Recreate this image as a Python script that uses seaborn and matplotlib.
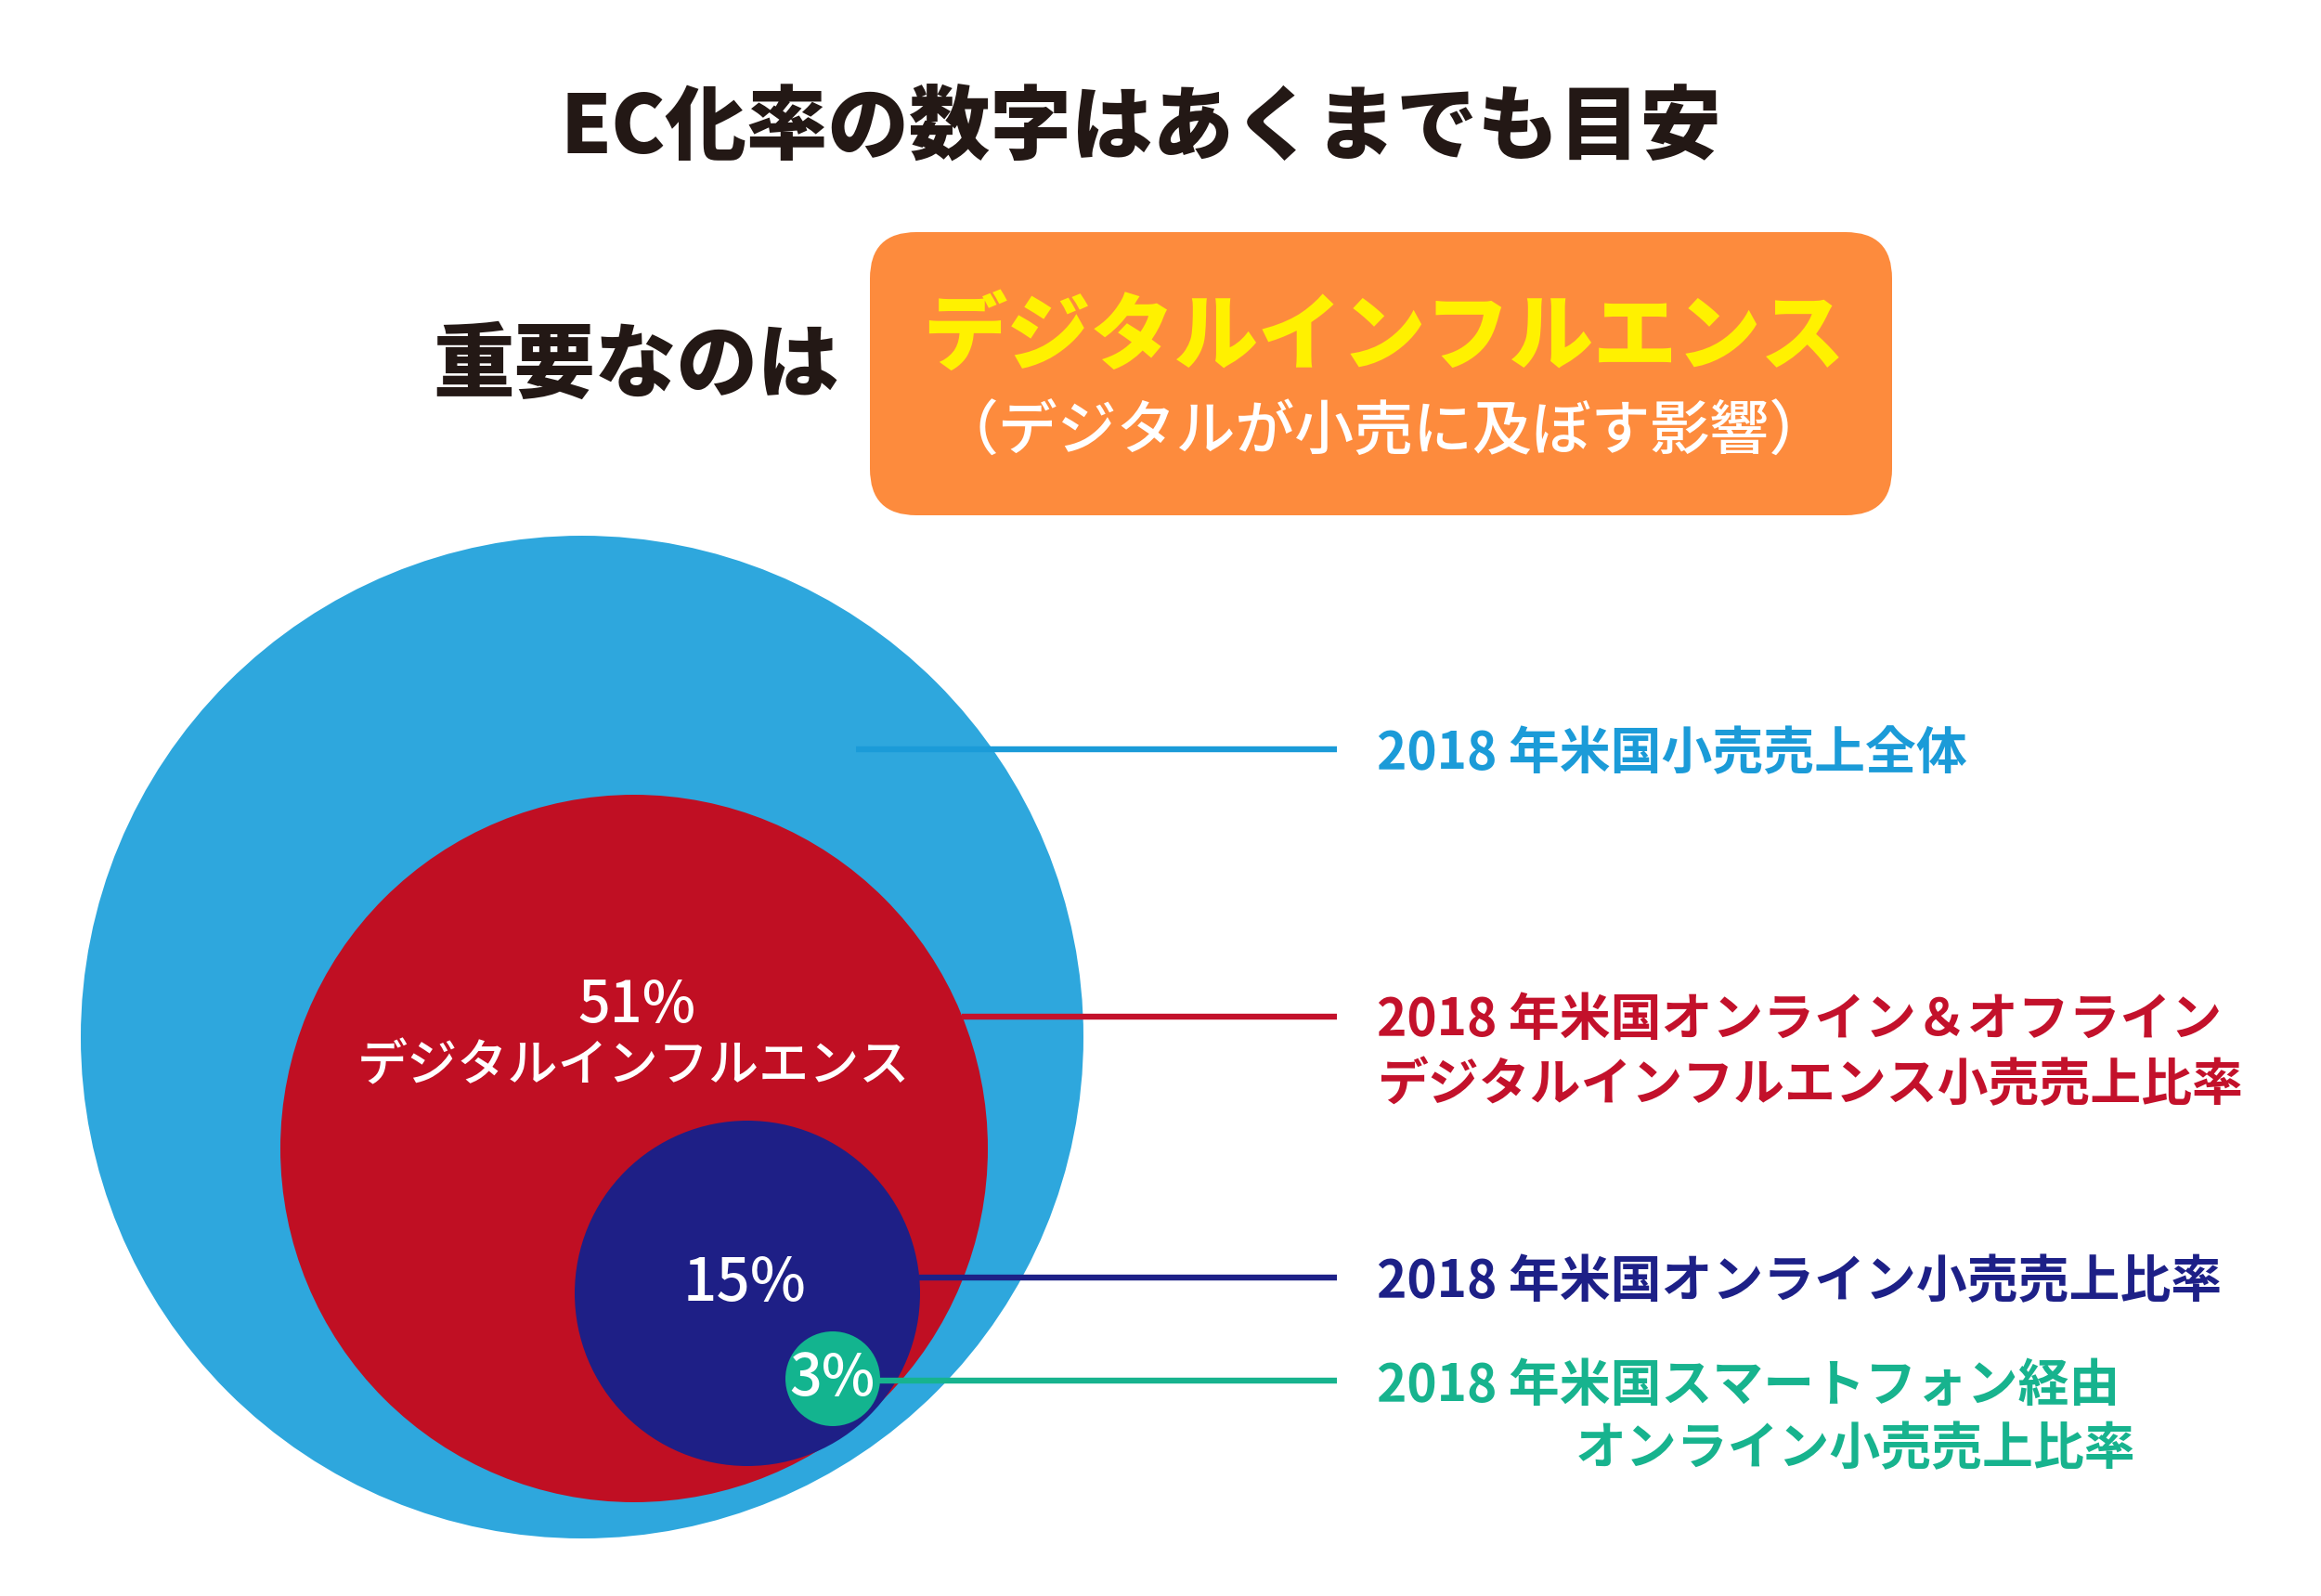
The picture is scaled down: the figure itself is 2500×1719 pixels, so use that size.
import pandas as pd
import seaborn as sns
import matplotlib.pyplot as plt
from matplotlib.patches import FancyBboxPatch

# ---- data ----
ring_names = ["小売売上全体", "デジタルインフルエンス", "オンライン", "スマートフォン"]
ring_pct = ["", "51%", "15%", "3%"]
ring_colors = ["#2ea7dd", "#c00f23", "#1e1f86", "#13b48f"]
label_colors = ["#1b9bd8", "#c3112b", "#1d2087", "#17b38e"]
label_lines = [
    ["2018 年米国小売売上全体"],
    ["2018 年米国オンライン＆オフライン", "デジタルインフルエンス小売売上比率"],
    ["2018 年米国オンライン小売売上比率"],
    ["2018 年米国スマートフォン経由", "オンライン小売売上比率"],
]
title = "EC化率の数字はあくまでも目安"
lead = "重要なのは"
box_title = "デジタルインフルエンス"
box_sub = "（デジタルが小売に及ぼす影響）"

# ---- layout (pixels of the 2500x1719 canvas) ----
W, H, DPI = 2500, 1719, 100
circle_cx = [627, 683, 805, 897]
circle_cy = [1117, 1237, 1393, 1485]
circle_r = [540, 381, 186, 51]
leader_y = [807, 1095, 1376, 1487]
leader_x0 = [922, 1036, 990, 946]
leader_x1 = 1440
label_x = 1483
label_fs = 39.5

sns.set_theme(style="white")
plt.rcParams["font.family"] = ["Noto Sans CJK JP", "DejaVu Sans"]

fig = plt.figure(figsize=(W / DPI, H / DPI), dpi=DPI)
ax = fig.add_axes([0, 0, 1, 1])

# circles as scatter markers, marker area given in points^2
circles = pd.DataFrame({"ring": ring_names, "cx": circle_cx, "cy": circle_cy, "r": circle_r})
areas = {n: (2 * r * 72 / DPI) ** 2 for n, r in zip(ring_names, circle_r)}
sns.scatterplot(data=circles, x="cx", y="cy", hue="ring", size="ring",
                palette=dict(zip(ring_names, ring_colors)), sizes=areas,
                linewidth=0, legend=False, ax=ax, zorder=1)

ax.set_xlim(0, W)
ax.set_ylim(H, 0)
ax.axis("off")

# leader lines
for y, x0, c in zip(leader_y, leader_x0, label_colors):
    ax.hlines(y, x0, leader_x1, color=c, lw=4.6, zorder=2)

# right hand labels
ax.text(label_x, 812, label_lines[0][0], color=label_colors[0], fontsize=label_fs,
        fontweight="bold", va="center", ha="left")
ax.text(label_x, 1099, label_lines[1][0], color=label_colors[1], fontsize=label_fs,
        fontweight="bold", va="center", ha="left")
ax.text(label_x, 1169, label_lines[1][1], color=label_colors[1], fontsize=label_fs,
        fontweight="bold", va="center", ha="left")
ax.text(label_x, 1381, label_lines[2][0], color=label_colors[2], fontsize=label_fs,
        fontweight="bold", va="center", ha="left")
ax.text(label_x, 1492, label_lines[3][0], color=label_colors[3], fontsize=label_fs,
        fontweight="bold", va="center", ha="left")
ax.text(2300, 1561, label_lines[3][1], color=label_colors[3], fontsize=label_fs,
        fontweight="bold", va="center", ha="right")

# labels inside the circles
ax.text(686, 1083, ring_pct[1], color="white", fontsize=44, fontweight="medium",
        ha="center", va="center", zorder=3)
ax.text(682, 1148, ring_names[1], color="white", fontsize=39, fontweight="medium",
        ha="center", va="center", zorder=3)
ax.text(802, 1382, ring_pct[2], color="white", fontsize=46, fontweight="medium",
        ha="center", va="center", zorder=3)
ax.text(896, 1486, ring_pct[3], color="white", fontsize=44, fontweight="medium",
        ha="center", va="center", zorder=3)

# heading
ax.text(1229, 140, title, color="#231815", fontsize=63, fontweight="black",
        ha="center", va="center")
ax.text(685, 395, lead, color="#231815", fontsize=63, fontweight="black",
        ha="center", va="center")

box = FancyBboxPatch((937, 250), 2038 - 937, 555 - 250,
                     boxstyle="round,pad=0,rounding_size=50",
                     fc="#fd8b3d", ec="none", zorder=1)
ax.add_patch(box)
ax.text(1491, 364, box_title, color="#fff100", fontsize=65, fontweight="black",
        ha="center", va="center", zorder=3)
ax.text(1491, 466, box_sub, color="white", fontsize=46, fontweight="medium",
        ha="center", va="center", zorder=3)

fig.savefig("out.png", dpi=DPI, facecolor="white")
